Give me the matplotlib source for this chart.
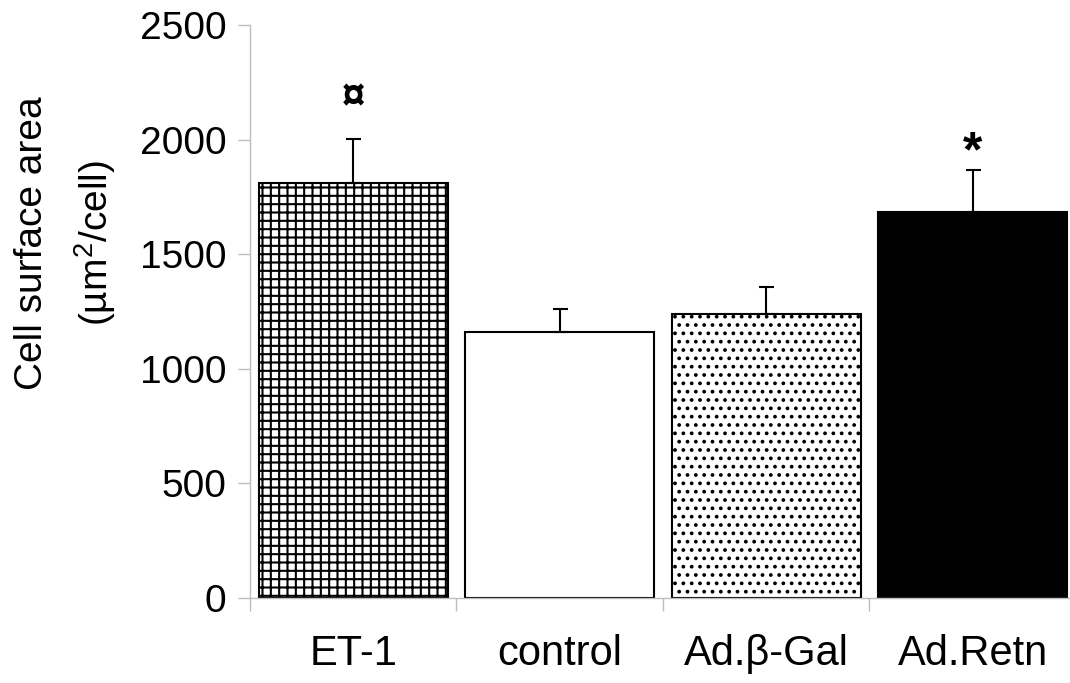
import matplotlib
matplotlib.use("Agg")
import matplotlib.pyplot as plt
import numpy as np

# Data
groups = ["ET-1", "control", "Ad.\u03b2-Gal", "Ad.Retn"]
mean_area = [1810, 1160, 1240, 1685]
sem_area = [195, 100, 120, 185]
marks = ["\u00a4", "", "", "*"]
y_ticks = [0, 500, 1000, 1500, 2000, 2500]

plt.rcParams["font.family"] = ["Liberation Sans", "DejaVu Sans"]
plt.rcParams["mathtext.fontset"] = "custom"
plt.rcParams["mathtext.rm"] = "Liberation Sans"
plt.rcParams["mathtext.it"] = "Liberation Sans:italic"
plt.rcParams["hatch.color"] = "black"
plt.rcParams["hatch.linewidth"] = 1.5

fig = plt.figure(figsize=(10.7, 6.83), dpi=100)
ax = fig.add_axes([0.2336, 0.1245, 0.772, 0.8382])

x = np.arange(len(groups))
faces = ["white", "white", "white", "black"]
hatches = ["++", None, "..", None]
bars = ax.bar(x, mean_area, width=0.915, color=faces, edgecolor="black",
              linewidth=1.5, zorder=2)
for b, h in zip(bars, hatches):
    if h:
        b.set_hatch(h)

ax.errorbar(x, mean_area, yerr=[np.zeros(len(sem_area)), sem_area],
            fmt="none", ecolor="black", elinewidth=1.5, capsize=5.4,
            capthick=1.5, zorder=3)

tops = np.array(mean_area) + np.array(sem_area)
for xi, top, m in zip(x, tops, marks):
    if not m:
        continue
    if m == "*":
        ax.annotate(m, (xi, top), xytext=(0, 12), textcoords="offset points",
                    ha="center", va="center", fontsize=36, fontweight="bold")
    else:
        ax.annotate(m, (xi, top), xytext=(0, 30), textcoords="offset points",
                    ha="center", va="center", fontsize=30, fontweight="bold")

ax.set_xlim(-0.5, 3.5)
ax.set_ylim(0, 2500)
ax.set_yticks(y_ticks)
ax.set_xticks(x)
ax.set_xticklabels(groups)
ax.set_xticks(np.arange(-0.5, 3.0, 1.0), minor=True)

spine_col = "#bdbdbd"
for s in ["top", "right"]:
    ax.spines[s].set_visible(False)
for s in ["left", "bottom"]:
    ax.spines[s].set_color(spine_col)
    ax.spines[s].set_linewidth(1.0)

ax.tick_params(axis="y", direction="out", length=9, width=1.0, color=spine_col,
               labelsize=28, pad=8)
ax.tick_params(axis="x", which="major", length=0, labelsize=30, pad=26)
ax.tick_params(axis="x", which="minor", direction="out", length=9, width=1.0,
               color=spine_col)

fig.text(0.030, 0.644, "Cell surface area", rotation=90, ha="center",
         va="center", fontsize=28)
fig.text(0.089, 0.644, "(\u00b5m$^{2}$/cell)", rotation=90, ha="center",
         va="center", fontsize=28)

fig.savefig("out.png", dpi=100)
